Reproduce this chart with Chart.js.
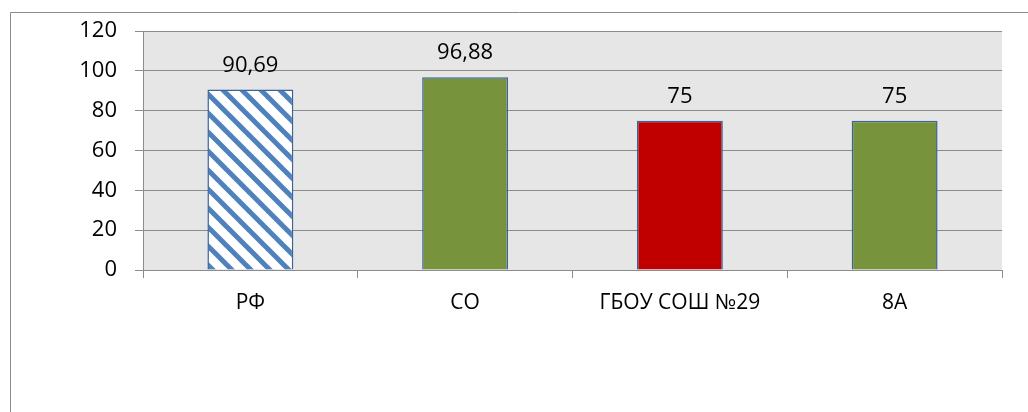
<!DOCTYPE html>
<html>
<head>
<meta charset="utf-8">
<script src="https://cdn.jsdelivr.net/npm/chart.js@4/dist/chart.umd.min.js"></script>
<style>
  html,body{margin:0;padding:0;background:#fff;}
  #wrap{width:1028px;height:412px;position:relative;}
</style>
</head>
<body>
<div id="wrap"><canvas id="chart" width="1028" height="412"></canvas></div>
<script>
const categories = ['РФ', 'СО', 'ГБОУ СОШ №29', '8А'];
const values = [90.69, 96.88, 75, 75];
const yTicks = [0, 20, 40, 60, 80, 100, 120];

const FONT = '"Open Sans", sans-serif';

// diagonal stripe fill for the first bar
function stripes(){
  const n = 19;
  const c = document.createElement('canvas');
  c.width = n; c.height = n;
  const g = c.getContext('2d');
  g.fillStyle = '#ffffff'; g.fillRect(0,0,n,n);
  g.strokeStyle = '#4f81bd'; g.lineWidth = 5;
  for (const d of [-n, 0, n]) { g.beginPath(); g.moveTo(d-6, -6); g.lineTo(d+n+6, n+6); g.stroke(); }
  return g.createPattern(c, 'repeat');
}
const fills = [stripes(), '#77933c', '#c00000', '#77933c'];

const frame = {
  id: 'frame',
  beforeDraw(chart){
    const {ctx, chartArea:a} = chart;
    ctx.save();
    ctx.fillStyle = '#e6e6e6';
    ctx.fillRect(a.left, a.top, a.right-a.left, a.bottom-a.top);
    ctx.strokeStyle = '#8c8c8c'; ctx.lineWidth = 1;
    ctx.beginPath();
    ctx.moveTo(10.5, 412); ctx.lineTo(10.5, 12.5); ctx.lineTo(1028, 12.5);
    ctx.stroke();
    ctx.restore();
  }
};

const valueLabels = {
  id: 'valueLabels',
  afterDatasetsDraw(chart){
    const {ctx} = chart;
    ctx.save();
    ctx.fillStyle = '#000'; ctx.font = '22px ' + FONT;
    ctx.textAlign = 'center'; ctx.textBaseline = 'alphabetic';
    chart.getDatasetMeta(0).data.forEach((bar, i) => {
      ctx.fillText(String(values[i]).replace('.', ','), bar.x, bar.y - 18);
    });
    ctx.restore();
  }
};

new Chart(document.getElementById('chart'), {
  type: 'bar',
  data: {
    labels: categories,
    datasets: [{
      data: values,
      backgroundColor: fills,
      borderColor: '#3b649a',
      borderWidth: 1.5,
      categoryPercentage: 1,
      barPercentage: 0.4
    }]
  },
  options: {
    responsive: false,
    animation: false,
    layout: {padding: {top: 30, right: 26, left: 0, bottom: 0}},
    plugins: {legend: {display: false}, tooltip: {enabled: false}},
    scales: {
      x: {
        grid: {offset: true, drawOnChartArea: false, drawTicks: true, tickLength: 8, color: '#8c8c8c'},
        border: {color: '#8c8c8c'},
        ticks: {color: '#000', font: {family: FONT, size: 21}, padding: 12},
        afterFit(s){ s.height = 142; }
      },
      y: {
        min: 0, max: 120,
        afterBuildTicks(s){ s.ticks = yTicks.map(v => ({value: v})); },
        grid: {color: '#8c8c8c', tickLength: 8},
        border: {color: '#8c8c8c'},
        ticks: {color: '#000', font: {family: FONT, size: 22}, padding: 18},
        afterFit(s){ s.width = 143; }
      }
    }
  },
  plugins: [frame, valueLabels]
});
</script>
</body>
</html>
